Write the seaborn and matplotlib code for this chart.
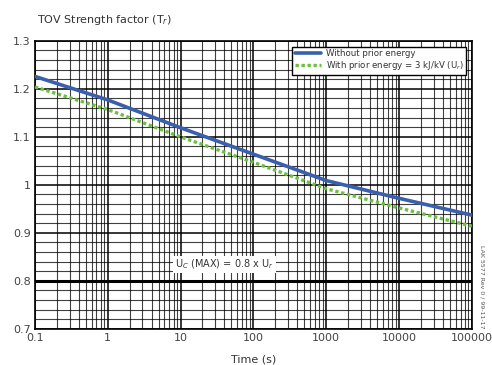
import numpy as np
import pandas as pd
import matplotlib
matplotlib.use("Agg")
import matplotlib.pyplot as plt
import seaborn as sns
from matplotlib.ticker import FixedLocator, FixedFormatter, LogLocator, MultipleLocator, NullFormatter

# values
time_s = [0.1, 1, 10, 100, 1000, 10000, 100000]
without_prior = [1.226, 1.177, 1.119, 1.064, 1.009, 0.972, 0.937]
with_prior = [1.204, 1.157, 1.100, 1.047, 0.992, 0.952, 0.914]
x_ticks = [0.1, 1, 10, 100, 1000, 10000, 100000]
x_labels = ["0.1", "1", "10", "100", "1000", "10000", "100000"]
y_ticks = [0.7, 0.8, 0.9, 1.0, 1.1, 1.2, 1.3]
y_labels = ["0.7", "0.8", "0.9", "1", "1.1", "1.2", "1.3"]

df = pd.DataFrame({"time": time_s, "without": without_prior, "with": with_prior})

sns.set_style("white")
plt.rcParams['font.family'] = ['DejaVu Sans']

fig = plt.figure(figsize=(4.92, 3.65), dpi=100)
ax = fig.add_axes([0.071, 0.099, 0.888, 0.789])

ax.set_xscale("log")
ax.set_xlim(0.1, 100000)
ax.set_ylim(0.7, 1.3)

# grid
ax.xaxis.set_major_locator(FixedLocator(x_ticks))
ax.xaxis.set_major_formatter(FixedFormatter(x_labels))
ax.xaxis.set_minor_locator(LogLocator(base=10, subs=np.arange(2, 10)))
ax.xaxis.set_minor_formatter(NullFormatter())
ax.yaxis.set_major_locator(FixedLocator(y_ticks))
ax.yaxis.set_major_formatter(FixedFormatter(y_labels))
ax.yaxis.set_minor_locator(MultipleLocator(0.02))
ax.grid(which="major", color="black", linewidth=1.1)
ax.grid(which="minor", color="black", linewidth=0.8, alpha=0.75)
ax.axhline(0.8, color="black", linewidth=2.2, zorder=2)
ax.set_axisbelow(True)
for s in ax.spines.values():
    s.set_color("black")
    s.set_linewidth(1.2)
ax.tick_params(which="both", length=0, labelsize=8, colors="#444444", pad=3)

sns.lineplot(data=df, x="time", y="without", ax=ax, color="#3a5fad", linewidth=2.6,
             label="Without prior energy", zorder=5)
sns.lineplot(data=df, x="time", y="with", ax=ax, color="#6cbf3f", linewidth=2.4,
             linestyle=(0, (1, 0.8)), label="With prior energy = 3 kJ/kV (U$_r$)", zorder=5)

ax.set_xlabel("Time (s)", fontsize=8, color="#333333", labelpad=8)
ax.set_ylabel("")

leg = ax.legend(loc="upper right", fontsize=6.2, frameon=True, fancybox=False,
                borderpad=0.3, handlelength=3, labelspacing=0.1, handletextpad=0.6,
                bbox_to_anchor=(0.997, 0.995))
leg.get_frame().set_edgecolor("black")
leg.get_frame().set_linewidth(1.0)
leg.get_frame().set_alpha(1)
for t in leg.get_texts():
    t.set_color("#333333")

ax.text(8.5, 0.834, "U$_C$ (MAX) = 0.8 x U$_r$", fontsize=7, color="#333333",
        va="center", ha="left", zorder=6,
        bbox=dict(facecolor="white", edgecolor="none", pad=1.5))

fig.text(0.075, 0.945, "TOV Strength factor (T$_r$)", fontsize=8, color="#333333",
         ha="left", va="center")
fig.text(0.979, 0.215, "LAK 5577 Rev 0 / 99-11-17", fontsize=4.5, color="#555555",
         rotation=270, ha="center", va="center")

fig.savefig("out.png", dpi=100)
